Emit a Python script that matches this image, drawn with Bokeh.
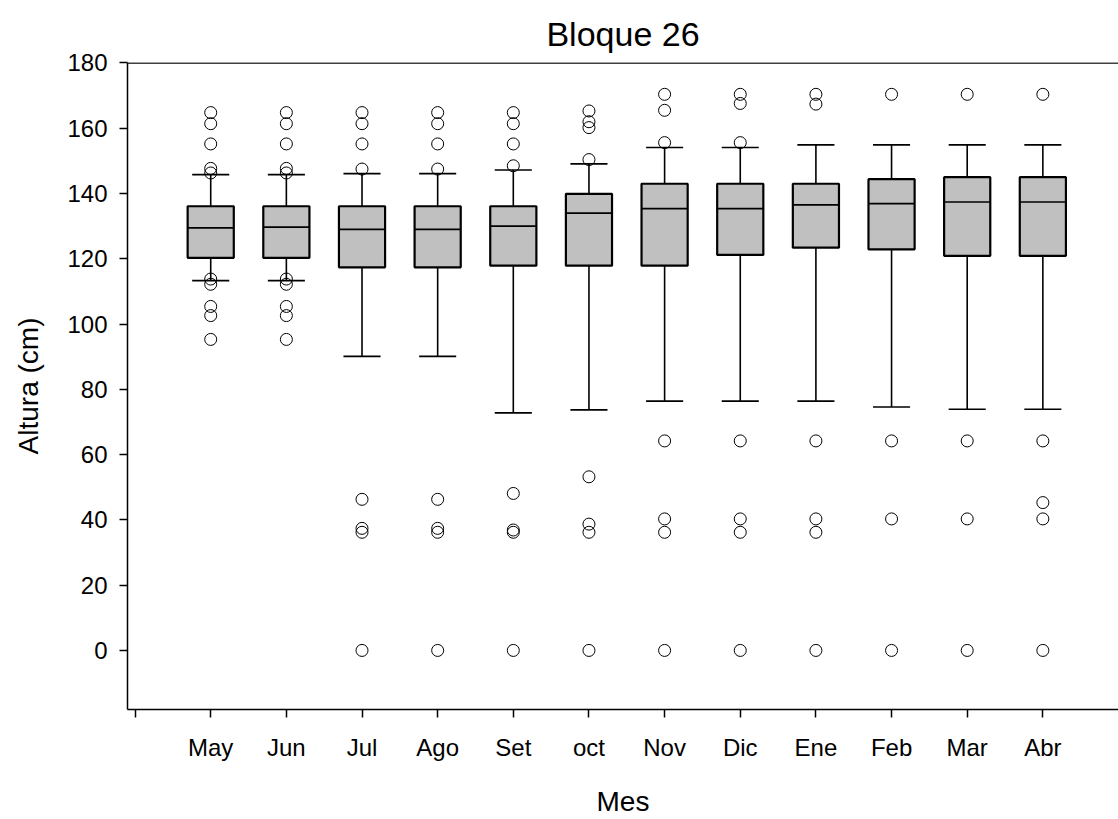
from bokeh.plotting import figure
from bokeh.models import Range1d, FixedTicker, Span, ColumnDataSource
from bokeh.embed import file_html
from bokeh.resources import INLINE

# ---- data ----
months = ["May", "Jun", "Jul", "Ago", "Set", "oct", "Nov", "Dic", "Ene", "Feb", "Mar", "Abr"]
q1 = [120.3, 120.3, 117.4, 117.4, 117.9, 117.9, 117.9, 121.2, 123.4, 122.9, 120.9, 120.9]
median = [129.5, 129.7, 129.0, 129.0, 130.0, 134.0, 135.4, 135.4, 136.5, 136.9, 137.4, 137.4]
q3 = [136.1, 136.1, 136.1, 136.1, 136.1, 139.9, 143.0, 143.0, 143.0, 144.4, 145.0, 145.0]
whisker_low = [113.3, 113.3, 90.1, 90.1, 72.8, 73.7, 76.4, 76.4, 76.4, 74.6, 73.9, 73.9]
whisker_high = [145.8, 145.8, 146.1, 146.1, 147.2, 149.1, 154.1, 154.1, 154.9, 154.9, 154.9, 154.9]
outliers = [
    [164.8, 161.4, 155.2, 147.7, 146.3, 113.8, 112.2, 105.4, 102.6, 95.3],
    [164.8, 161.4, 155.2, 147.7, 146.3, 113.8, 112.2, 105.4, 102.6, 95.3],
    [164.8, 161.4, 155.2, 147.5, 46.3, 37.4, 36.2, 0.0],
    [164.8, 161.4, 155.2, 147.5, 46.3, 37.4, 36.2, 0.0],
    [164.8, 161.4, 155.2, 148.5, 48.1, 36.9, 36.2, 0.0],
    [165.3, 162.0, 160.2, 150.4, 53.2, 38.7, 36.2, 0.0],
    [170.4, 165.5, 155.6, 64.2, 40.3, 36.2, 0.0],
    [170.4, 167.6, 155.6, 64.2, 40.3, 36.2, 0.0],
    [170.4, 167.4, 64.2, 40.3, 36.2, 0.0],
    [170.4, 64.2, 40.3, 0.0],
    [170.4, 64.2, 40.3, 0.0],
    [170.4, 64.2, 45.3, 40.3, 0.0],
]
y_ticks = [0, 20, 40, 60, 80, 100, 120, 140, 160, 180]

# ---- build sources ----
xs = list(range(1, len(months) + 1))
box_w = 0.61
cap_w = 0.49

box_src = ColumnDataSource(dict(
    x=xs, q1=q1, q3=q3, med=median, lo=whisker_low, hi=whisker_high,
    bl=[x - box_w / 2 for x in xs], br=[x + box_w / 2 for x in xs],
    cl=[x - cap_w / 2 for x in xs], cr=[x + cap_w / 2 for x in xs],
))

ox, oy = [], []
for x, vals in zip(xs, outliers):
    for v in vals:
        ox.append(x)
        oy.append(v)
out_src = ColumnDataSource(dict(x=ox, y=oy))

FONT = "Liberation Sans"

p = figure(width=1118, height=819, output_backend="svg", toolbar_location=None,
           x_range=Range1d(-0.1, 13.0), y_range=Range1d(-18.1, 180.15),
           min_border_left=127, min_border_right=0, min_border_top=62,
           min_border_bottom=106)

p.outline_line_color = None
p.background_fill_color = "white"
p.border_fill_color = "white"
p.xgrid.visible = False
p.ygrid.visible = False

# top frame line
p.add_layout(Span(location=180, dimension="width", line_color="black", line_width=1.5))

# whiskers
p.segment(x0="x", y0="q3", x1="x", y1="hi", source=box_src, line_color="black", line_width=1.6)
p.segment(x0="x", y0="q1", x1="x", y1="lo", source=box_src, line_color="black", line_width=1.6)
p.segment(x0="cl", y0="hi", x1="cr", y1="hi", source=box_src, line_color="black", line_width=1.6)
p.segment(x0="cl", y0="lo", x1="cr", y1="lo", source=box_src, line_color="black", line_width=1.6)

# boxes
p.vbar(x="x", width=box_w, top="q3", bottom="q1", source=box_src,
       fill_color="#c0c0c0", line_color="black", line_width=2.2)
# medians
p.segment(x0="bl", y0="med", x1="br", y1="med", source=box_src, line_color="black", line_width=1.7)

# outliers
p.scatter(x="x", y="y", source=out_src, marker="circle", size=12,
          fill_color=None, line_color="black", line_width=1)

# title
p.title.text = "Bloque 26"
p.title.align = "center"
p.title.text_font = FONT
p.title.text_font_size = "34px"
p.title.text_font_style = "normal"
p.title.text_color = "black"
p.title.standoff = 20

# x axis
p.xaxis.ticker = FixedTicker(ticks=list(range(0, len(months) + 1)))
overrides = {0: ""}
for x, m in zip(xs, months):
    overrides[x] = m
p.xaxis.major_label_overrides = overrides
p.xaxis.axis_label = "Mes"

# y axis
p.yaxis.ticker = FixedTicker(ticks=y_ticks)
p.yaxis.axis_label = "Altura (cm)"

for ax in (p.xaxis[0], p.yaxis[0]):
    ax.axis_line_color = "black"
    ax.axis_line_width = 1.5
    ax.major_tick_line_color = "black"
    ax.major_tick_line_width = 1.5
    ax.major_tick_in = 0
    ax.major_tick_out = 8
    ax.minor_tick_line_color = None
    ax.major_label_text_font = FONT
    ax.major_label_text_font_size = "24px"
    ax.major_label_text_color = "black"
    ax.axis_label_text_font = FONT
    ax.axis_label_text_font_size = "28px"
    ax.axis_label_text_font_style = "normal"
    ax.axis_label_text_color = "black"

p.xaxis.major_label_standoff = 16
p.xaxis.axis_label_standoff = 22
p.yaxis.major_label_standoff = 12
p.yaxis.axis_label_standoff = 20

open("out.html", "w").write(file_html(p, INLINE))
